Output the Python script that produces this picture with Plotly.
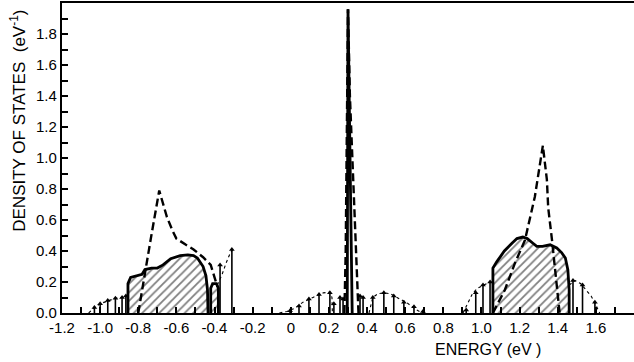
import plotly.graph_objects as go

# ---- data (energy in eV, density of states in eV^-1) ----
# hatched band on the left
band_l_x = [-0.854, -0.854, -0.84, -0.80, -0.78, -0.765, -0.73, -0.70, -0.67, -0.63,
            -0.58, -0.54, -0.51, -0.49, -0.46, -0.445, -0.437, -0.434]
band_l_y = [0.0, 0.19, 0.23, 0.245, 0.25, 0.28, 0.29, 0.29, 0.31, 0.35,
            0.37, 0.375, 0.37, 0.355, 0.30, 0.24, 0.15, 0.0]

# small band next to it
band_s_x = [-0.42, -0.42, -0.41, -0.39, -0.38, -0.38]
band_s_y = [0.0, 0.16, 0.19, 0.19, 0.16, 0.0]

# hatched band on the right
band_r_x = [1.06, 1.06, 1.08, 1.12, 1.16, 1.186, 1.217, 1.24, 1.27, 1.29,
            1.32, 1.36, 1.395, 1.42, 1.44, 1.453, 1.46, 1.46]
band_r_y = [0.0, 0.29, 0.33, 0.40, 0.45, 0.48, 0.49, 0.48, 0.45, 0.43,
            0.43, 0.44, 0.42, 0.39, 0.355, 0.28, 0.15, 0.0]

# heavy dashed curves
dash_l_x = [-0.80, -0.775, -0.73, -0.69, -0.67, -0.65, -0.62, -0.60, -0.55,
            -0.51, -0.46, -0.42, -0.40, -0.385]
dash_l_y = [0.0, 0.19, 0.51, 0.79, 0.70, 0.62, 0.53, 0.48, 0.44,
            0.41, 0.36, 0.31, 0.23, 0.17]

dash_c_x = [0.281, 0.288, 0.291, 0.296, 0.300, 0.310, 0.322, 0.338, 0.355]
dash_c_y = [0.0, 0.40, 0.80, 1.40, 1.96, 1.40, 1.00, 0.50, 0.0]

dash_r_x = [1.06, 1.123, 1.175, 1.228, 1.28, 1.31, 1.322, 1.343, 1.35,
            1.37, 1.385, 1.40, 1.41]
dash_r_y = [0.0, 0.15, 0.32, 0.47, 0.75, 0.97, 1.08, 0.86, 0.68,
            0.47, 0.28, 0.10, 0.0]

# solid central peak
peak_x = [0.296, 0.300, 0.322]
peak_y = [0.0, 1.96, 0.0]

# light dashed envelopes
env_segments = [
    ([-1.06, -1.03, -1.00, -0.96, -0.92, -0.885, -0.862],
     [0.0, 0.035, 0.06, 0.08, 0.095, 0.10, 0.11]),
    ([-0.385, -0.36, -0.34, -0.32, -0.305],
     [0.18, 0.25, 0.32, 0.38, 0.41]),
    ([-0.06, -0.02, 0.02, 0.064, 0.116, 0.17, 0.205, 0.216, 0.218],
     [0.0, 0.01, 0.03, 0.07, 0.10, 0.13, 0.135, 0.10, 0.0]),
    ([0.41, 0.43, 0.458, 0.488, 0.52, 0.557, 0.61, 0.66, 0.69],
     [0.0, 0.10, 0.125, 0.13, 0.125, 0.10, 0.065, 0.02, 0.0]),
    ([0.903, 0.93, 0.955, 0.98, 1.008, 1.035, 1.055],
     [0.0, 0.07, 0.13, 0.16, 0.18, 0.195, 0.20]),
    ([1.46, 1.48, 1.49, 1.52, 1.55, 1.575, 1.595, 1.62],
     [0.18, 0.20, 0.21, 0.19, 0.15, 0.11, 0.065, 0.0]),
]

# discrete levels drawn as arrows
arrow_x = [-1.03, -1.00, -0.96, -0.92, -0.885, -0.865,
           -0.371, -0.309,
           -0.004, 0.043, 0.095, 0.148, 0.205,
           0.226, 0.258, 0.274, 0.363, 0.379,
           0.43, 0.488, 0.54, 0.593, 0.646, 0.693,
           0.92, 0.97, 1.008, 1.045,
           1.48, 1.53, 1.595]
arrow_y = [0.035, 0.06, 0.08, 0.095, 0.10, 0.11,
           0.31, 0.41,
           0.015, 0.045, 0.09, 0.12, 0.13,
           0.06, 0.10, 0.09, 0.11, 0.10,
           0.10, 0.13, 0.11, 0.07, 0.04, 0.01,
           0.02, 0.13, 0.18, 0.20,
           0.21, 0.18, 0.07]

x_ticks = [-1.2, -1.0, -0.8, -0.6, -0.4, -0.2, 0.0, 0.2, 0.4, 0.6, 0.8, 1.0, 1.2, 1.4, 1.6]
x_tick_text = ["-1.2", "-1.0", "-0.8", "-0.6", "-0.4", "-0.2", "0", "0.2", "0.4",
               "0.6", "0.8", "1.0", "1.2", "1.4", "1.6"]
y_ticks = [0.0, 0.2, 0.4, 0.6, 0.8, 1.0, 1.2, 1.4, 1.6, 1.8]
y_tick_text = ["0.0", "0.2", "0.4", "0.6", "0.8", "1.0", "1.2", "1.4", "1.6", "1.8"]

FONT = "Liberation Sans, Arial, sans-serif"
INK = "black"

fig = go.Figure()

# hatched bands
for bx, by in [(band_l_x, band_l_y), (band_r_x, band_r_y), (band_s_x, band_s_y)]:
    fig.add_trace(go.Scatter(
        x=bx, y=by, mode="lines", fill="toself",
        fillcolor="white",
        fillpattern=dict(shape="/", fgcolor=INK, bgcolor="white", size=6, solidity=0.3),
        line=dict(color=INK, width=2.8), hoverinfo="skip"))

# light dashed envelopes
for ex, ey in env_segments:
    fig.add_trace(go.Scatter(x=ex, y=ey, mode="lines",
                             line=dict(color=INK, width=1.1, dash="3px,3px"),
                             hoverinfo="skip"))

# arrows: stems and heads
stem_x, stem_y = [], []
for ax, ay in zip(arrow_x, arrow_y):
    stem_x += [ax, ax, None]
    stem_y += [0.0, ay, None]
fig.add_trace(go.Scatter(x=stem_x, y=stem_y, mode="lines",
                         line=dict(color=INK, width=1.6), hoverinfo="skip"))
fig.add_trace(go.Scatter(x=arrow_x, y=arrow_y, mode="markers",
                         marker=dict(symbol="triangle-up", size=5, color=INK),
                         hoverinfo="skip"))

# heavy dashed curves
for dx, dy in [(dash_l_x, dash_l_y), (dash_c_x, dash_c_y), (dash_r_x, dash_r_y)]:
    fig.add_trace(go.Scatter(x=dx, y=dy, mode="lines",
                             line=dict(color=INK, width=2.4, dash="8px,4px"),
                             hoverinfo="skip"))

# solid central peak
fig.add_trace(go.Scatter(x=peak_x, y=peak_y, mode="lines",
                         line=dict(color=INK, width=2.8), hoverinfo="skip"))

fig.update_layout(
    width=634, height=362,
    margin=dict(l=62, r=0, t=3, b=49),
    paper_bgcolor="white", plot_bgcolor="white",
    showlegend=False,
    font=dict(family=FONT, size=15, color=INK),
    xaxis=dict(
        range=[-1.2, 1.8], showgrid=False, zeroline=False,
        showline=True, linecolor=INK, linewidth=2.2, mirror=True,
        tickvals=x_ticks, ticktext=x_tick_text,
        ticks="inside", ticklen=6, tickwidth=1.5, tickcolor=INK,
        minor=dict(dtick=0.1, tick0=-1.2, ticks="inside", ticklen=6,
                   tickwidth=1.5, tickcolor=INK),
        tickfont=dict(family=FONT, size=15),
    ),
    yaxis=dict(
        range=[0, 2.0], showgrid=False, zeroline=False,
        showline=True, linecolor=INK, linewidth=2.2, mirror=False,
        tickvals=y_ticks, ticktext=y_tick_text,
        ticks="inside", ticklen=6, tickwidth=1.5, tickcolor=INK,
        minor=dict(dtick=0.1, tick0=0, ticks="inside", ticklen=6,
                   tickwidth=1.5, tickcolor=INK),
        tickfont=dict(family=FONT, size=15),
    ),
    annotations=[
        dict(text="DENSITY OF STATES  (eV<sup>-1</sup>)", textangle=-90,
             xref="paper", yref="paper", x=-0.077, y=0.62,
             xanchor="center", yanchor="middle", showarrow=False,
             font=dict(family=FONT, size=17)),
        dict(text="ENERGY (eV )", xref="paper", yref="paper",
             x=0.745, y=-0.119, xanchor="center", yanchor="middle",
             showarrow=False, font=dict(family=FONT, size=16)),
    ],
)

fig.write_html("out.html")
